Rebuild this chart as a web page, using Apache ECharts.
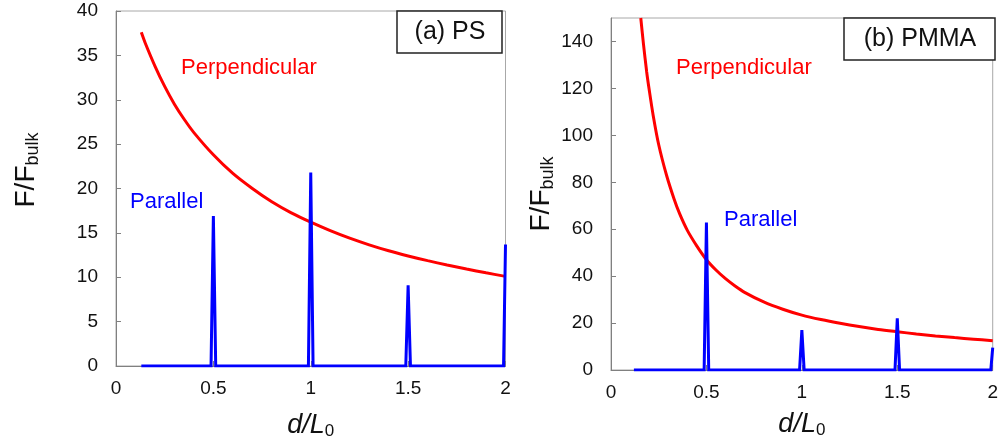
<!DOCTYPE html>
<html>
<head>
<meta charset="utf-8">
<script src="https://cdn.jsdelivr.net/npm/echarts@6/dist/echarts.min.js"></script>
<style>
  html, body { margin: 0; padding: 0; background: #fff; }
  #chart { width: 1001px; height: 447px; }
</style>
</head>
<body>
<div id="chart"></div>
<script>
// d/L0 tick labels shared by both panels
const xTicks = [0, 0.5, 1, 1.5, 2];

// (a) PS — perpendicular orientation
const psPerpD = [0.13, 0.15, 0.2, 0.25, 0.3, 0.35, 0.4, 0.5, 0.6, 0.7, 0.8, 0.9, 1.0,
                 1.1, 1.2, 1.3, 1.4, 1.5, 1.6, 1.7, 1.8, 1.9, 2.0];
const psPerpF = [37.6, 36.4, 33.8, 31.5, 29.5, 27.8, 26.3, 23.8, 21.7, 20.0, 18.5, 17.25, 16.2,
                 15.25, 14.4, 13.65, 12.98, 12.4, 11.87, 11.38, 10.93, 10.5, 10.1];
// (a) PS — parallel orientation (sharp peaks at commensurate thickness)
const psParD = [0.13, 0.488, 0.5, 0.512, 0.988, 1.0, 1.012, 1.488, 1.5, 1.512, 1.99, 2.0];
const psParF = [0, 0, 16.9, 0, 0, 21.8, 0, 0, 9.1, 0, 0, 13.7];

// (b) PMMA — perpendicular orientation
const pmPerpD = [0.156, 0.17, 0.187, 0.2, 0.221, 0.25, 0.291, 0.33, 0.36, 0.4, 0.45, 0.5, 0.55,
                 0.6, 0.65, 0.7, 0.8, 0.9, 1.0, 1.1, 1.2, 1.3, 1.4, 1.5, 1.6, 1.7, 1.8, 1.9, 2.0];
const pmPerpF = [150, 139, 127, 119.5, 108.5, 96, 83, 73, 66.5, 59.5, 52.8, 47, 42.6,
                 38.9, 35.8, 33.1, 29.0, 25.9, 23.4, 21.5, 19.9, 18.5, 17.3, 16.3, 15.35, 14.5, 13.8, 13.15, 12.5];
// (b) PMMA — parallel orientation
const pmParD = [0.12, 0.488, 0.5, 0.512, 0.988, 1.0, 1.012, 1.488, 1.5, 1.512, 1.99, 2.0];
const pmParF = [0, 0, 62.8, 0, 0, 17.0, 0, 0, 22.0, 0, 0, 9.5];

const zip = (xs, ys) => xs.map((x, i) => [x, ys[i]]);

const FONT = 'Liberation Sans, Arial, sans-serif';
const AXIS_GRAY = '#808080';
const FRAME_GRAY = '#a8a8a8';
const TEXT = '#111';
const RED = '#ff0000';
const BLUE = '#0000ff';

function xAxisFor(gridIndex, gap) {
  return {
    type: 'value', gridIndex, min: 0, max: 2, interval: 0.5,
    axisLine: { show: true, lineStyle: { color: AXIS_GRAY, width: 1 } },
    axisTick: { show: true, inside: true, length: 5, lineStyle: { color: AXIS_GRAY } },
    splitLine: { show: false },
    axisLabel: {
      margin: 13, fontFamily: FONT, fontSize: 19, color: TEXT,
      formatter: v => (xTicks.includes(v) ? String(v) : '')
    },
    name: '{m|d/L}{s|0}',
    nameLocation: 'middle',
    nameGap: gap,
    nameTextStyle: {
      rich: {
        m: { fontFamily: FONT, fontSize: 27, fontStyle: 'italic', color: TEXT, lineHeight: 28, verticalAlign: 'top' },
        s: { fontFamily: FONT, fontSize: 17, color: TEXT, lineHeight: 17, verticalAlign: 'bottom', padding: [15, 0, 0, 0] }
      }
    }
  };
}

function yAxisFor(gridIndex, max, interval, gap, shift) {
  return {
    type: 'value', gridIndex, min: 0, max, interval,
    axisLine: { show: true, lineStyle: { color: AXIS_GRAY, width: 1 } },
    axisTick: { show: true, inside: true, length: 5, lineStyle: { color: AXIS_GRAY } },
    splitLine: { show: false },
    axisLabel: {
      margin: 18, fontFamily: FONT, fontSize: 19, color: TEXT,
      showMaxLabel: max % interval === 0
    },
    name: '{m|F/F}{s|bulk}',
    nameLocation: 'middle',
    nameRotate: 90,
    nameGap: gap,
    nameTextStyle: {
      padding: [0, 0, 0, shift],
      rich: {
        m: { fontFamily: FONT, fontSize: 28, color: TEXT, lineHeight: 30, verticalAlign: 'top' },
        s: { fontFamily: FONT, fontSize: 18, color: TEXT, lineHeight: 18, verticalAlign: 'bottom', padding: [16, 0, 0, 0] }
      }
    }
  };
}

function curve(xi, data) {
  return {
    type: 'line', xAxisIndex: xi, yAxisIndex: xi, data,
    showSymbol: false, symbol: 'none', smooth: 0.3, clip: true,
    lineStyle: { color: RED, width: 3 }, animation: false, z: 3
  };
}

function spikes(xi, data) {
  return {
    type: 'line', xAxisIndex: xi, yAxisIndex: xi, data,
    showSymbol: false, symbol: 'none', smooth: false, clip: true,
    lineStyle: { color: BLUE, width: 3, join: 'miter' }, animation: false, z: 4
  };
}

function label(x, y, text, color, size, align) {
  return {
    type: 'text', x, y, z: 10,
    style: { text, fill: color, fontFamily: FONT, fontSize: size, align: align || 'left', verticalAlign: 'middle' }
  };
}

function box(x, y, w, h) {
  return {
    type: 'rect', z: 9,
    shape: { x, y, width: w, height: h },
    style: { fill: '#fff', stroke: '#222', lineWidth: 1.5 }
  };
}

const chart = echarts.init(document.getElementById('chart'), null, { renderer: 'canvas' });
chart.setOption({
  backgroundColor: '#fff',
  animation: false,
  grid: [
    { left: 116, top: 11, width: 389.5, height: 355, show: true, borderColor: FRAME_GRAY, borderWidth: 1, containLabel: false },
    { left: 611, top: 18, width: 385, height: 352, show: true, borderColor: FRAME_GRAY, borderWidth: 1, containLabel: false }
  ],
  xAxis: [xAxisFor(0, 46), xAxisFor(1, 41)],
  yAxis: [yAxisFor(0, 40, 5, 74, 37), yAxisFor(1, 150, 20, 54, 0)],
  series: [
    curve(0, zip(psPerpD, psPerpF)),
    spikes(0, zip(psParD, psParF)),
    curve(1, zip(pmPerpD, pmPerpF)),
    spikes(1, zip(pmParD, pmParF))
  ],
  graphic: [
    box(397, 11, 105, 42),
    label(450, 32, '(a) PS', TEXT, 25, 'center'),
    box(844, 18, 151, 42),
    label(920, 39, '(b) PMMA', TEXT, 25, 'center'),
    label(181, 68, 'Perpendicular', RED, 22),
    label(130, 202, 'Parallel', BLUE, 22),
    label(676, 68, 'Perpendicular', RED, 22),
    label(724, 220, 'Parallel', BLUE, 22)
  ]
});
</script>
</body>
</html>
